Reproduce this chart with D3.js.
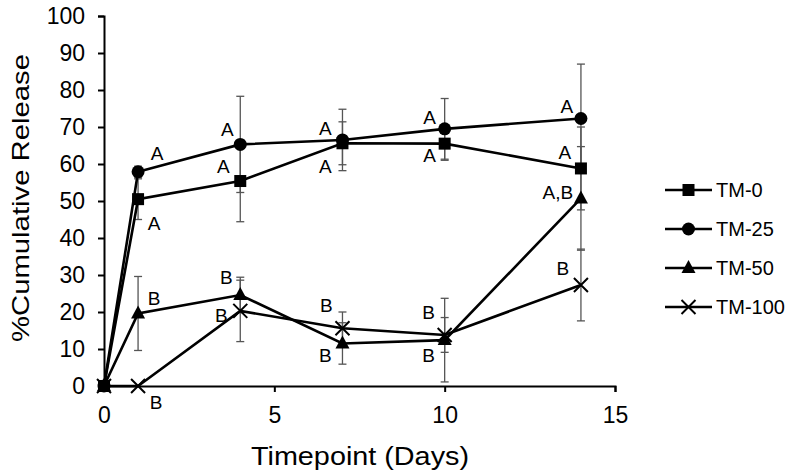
<!DOCTYPE html>
<html><head><meta charset="utf-8">
<script src="https://cdn.jsdelivr.net/npm/d3@7"></script>
<style>body{margin:0;background:#fff}svg{display:block}text{font-family:"Liberation Sans",Arial,sans-serif;fill:#000}</style>
</head><body><svg id="c" width="800" height="472"></svg>
<script>
const days = [0, 1, 4, 7, 10, 14];
const seriesNames = ["TM-0", "TM-25", "TM-50", "TM-100"];
const tm0 = [0, 50.5, 55.4, 65.6, 65.5, 58.8];
const tm25 = [0, 57.9, 65.3, 66.5, 69.5, 72.3];
const tm50 = [0, 19.6, 24.6, 11.5, 12.4, 50.7];
const tm100 = [0, 0, 20.3, 15.6, 13.8, 27.3];
const err0 = [0, 5.5, 11, 5.8, 4.5, 11.2];
const err25 = [0, 1.5, 13, 8.3, 8.2, 14.7];
const err50 = [0, 10, 4.8, 5.6, 11.3, 14];
const err100 = [0, 0, 8.3, 4.4, 4.7, 9.7];
const lab0 = ["", "A", "A", "A", "A", "A"];
const lab25 = ["", "A", "A", "A", "A", "A"];
const lab50 = ["", "B", "B", "B", "B", "A,B"];
const lab100 = ["", "B", "B", "B", "B", "B"];
const xTicks = [0, 5, 10, 15];
const yTicks = [0, 10, 20, 30, 40, 50, 60, 70, 80, 90, 100];

const svg = d3.select("#c");
const x = d3.scaleLinear().domain([0, 15]).range([104, 615]);
const y = d3.scaleLinear().domain([0, 100]).range([386, 16]);

// axes
const ya = svg.append("g").attr("transform", "translate(104,0)")
  .call(d3.axisLeft(y).tickValues(yTicks).tickSize(6).tickPadding(13));
ya.selectAll("text").style("font-size", "23px").style("font-family", "Liberation Sans, Arial, sans-serif");
const xa = svg.append("g").attr("transform", "translate(0,386)")
  .call(d3.axisBottom(x).tickValues(xTicks).tickSize(6).tickPadding(15));
xa.selectAll("text").style("font-size", "23px").style("font-family", "Liberation Sans, Arial, sans-serif");
svg.selectAll(".domain").attr("stroke", "#000").attr("stroke-width", 2);
svg.selectAll(".tick line").attr("stroke", "#000").attr("stroke-width", 2);

svg.append("text").attr("x", 360).attr("y", 465).attr("text-anchor", "middle")
  .attr("textLength", 218).attr("lengthAdjust", "spacingAndGlyphs")
  .style("font-size", "25px").text("Timepoint (Days)");
svg.append("text").attr("transform", "translate(29,198) rotate(-90)").attr("text-anchor", "middle")
  .attr("textLength", 288).attr("lengthAdjust", "spacingAndGlyphs")
  .style("font-size", "24px").text("%Cumulative Release");

const series = [
  {name: seriesNames[0], v: tm0, e: err0, lab: lab0, shape: "square"},
  {name: seriesNames[1], v: tm25, e: err25, lab: lab25, shape: "circle"},
  {name: seriesNames[2], v: tm50, e: err50, lab: lab50, shape: "triangle"},
  {name: seriesNames[3], v: tm100, e: err100, lab: lab100, shape: "cross"}
];

// error bars
const eg = svg.append("g").attr("stroke", "#555").attr("stroke-width", 1.3);
series.forEach(s => {
  days.forEach((d, i) => {
    if (!s.e[i]) return;
    const cx = x(d), y1 = y(s.v[i] + s.e[i]), y2 = y(s.v[i] - s.e[i]);
    eg.append("line").attr("x1", cx).attr("x2", cx).attr("y1", y1).attr("y2", y2);
    eg.append("line").attr("x1", cx - 4).attr("x2", cx + 4).attr("y1", y1).attr("y2", y1);
    eg.append("line").attr("x1", cx - 4).attr("x2", cx + 4).attr("y1", y2).attr("y2", y2);
  });
});

function drawMarker(g, shape, cx, cy) {
  if (shape === "square") g.append("rect").attr("x", cx - 6).attr("y", cy - 6).attr("width", 12).attr("height", 12).attr("fill", "#000");
  else if (shape === "circle") g.append("circle").attr("cx", cx).attr("cy", cy).attr("r", 6.5).attr("fill", "#000");
  else if (shape === "triangle") g.append("path").attr("d", `M${cx},${cy - 8}L${cx + 7},${cy + 5}L${cx - 7},${cy + 5}Z`).attr("fill", "#000");
  else g.append("path").attr("d", `M${cx - 7},${cy - 7}L${cx + 7},${cy + 7}M${cx - 7},${cy + 7}L${cx + 7},${cy - 7}`).attr("stroke", "#000").attr("stroke-width", 2).attr("fill", "none");
}

const line = d3.line().x((d, i) => x(days[i])).y(d => y(d));
series.forEach(s => {
  svg.append("path").attr("d", line(s.v)).attr("fill", "none").attr("stroke", "#000").attr("stroke-width", 2.6);
});
series.forEach(s => {
  const g = svg.append("g");
  days.forEach((d, i) => drawMarker(g, s.shape, x(d), y(s.v[i])));
});

// letter labels (centre offsets relative to each point)
const labOff = [
  [null, [16, 24], [-17, -15], [-17, 23], [-15, 12], [-16, -16]],
  [null, [19, -19], [-13, -15], [-17, -12], [-15, -12], [-14, -12]],
  [null, [16, -15], [-14, -18], [-17, 12], [-16, 15], [-23, -6]],
  [null, [18, 16], [-19, 4], [-16, -23], [-16, -23], [-18, -17]]
];
const lg = svg.append("g").style("font-size", "19px").attr("text-anchor", "middle");
series.forEach((s, si) => {
  days.forEach((d, i) => {
    if (!s.lab[i]) return;
    const o = labOff[si][i];
    lg.append("text").attr("x", x(d) + o[0]).attr("y", y(s.v[i]) + o[1]).attr("dy", "0.36em").text(s.lab[i]);
  });
});

// legend
const leg = svg.append("g");
series.forEach((s, i) => {
  const ly = 190 + i * 39;
  leg.append("line").attr("x1", 665).attr("x2", 712).attr("y1", ly).attr("y2", ly).attr("stroke", "#000").attr("stroke-width", 2.6);
  drawMarker(leg, s.shape, 688.5, ly);
  leg.append("text").attr("x", 716).attr("y", ly).attr("dy", "0.36em").style("font-size", "20px").text(s.name);
});
</script></body></html>
